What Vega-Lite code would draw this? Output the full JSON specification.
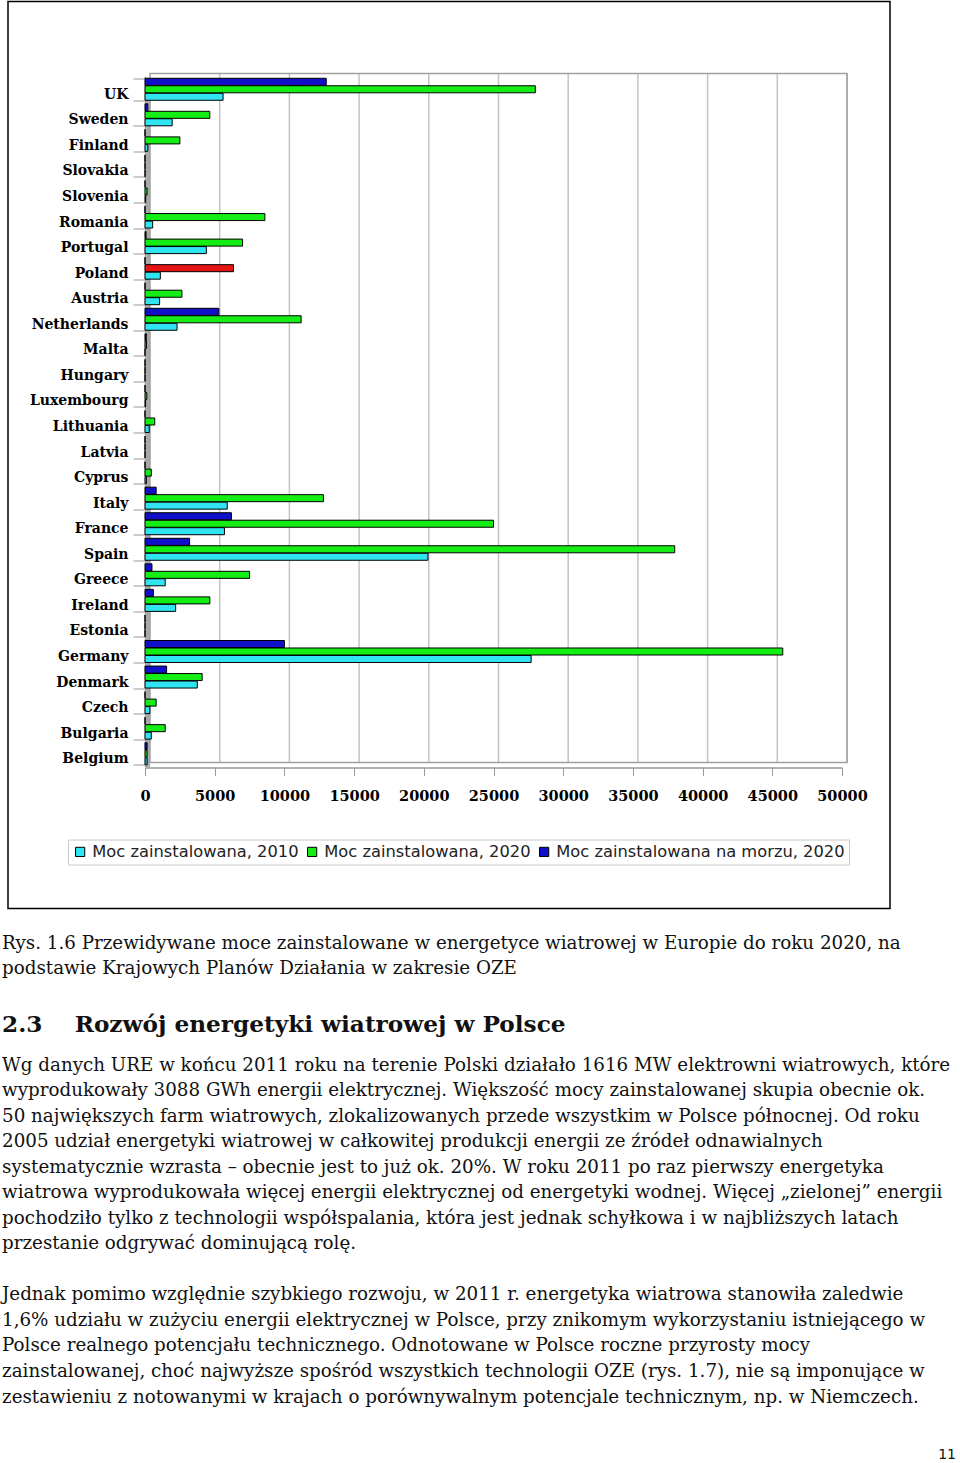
{
  "$schema": "https://vega.github.io/schema/vega-lite/v6.json",
  "width": 882,
  "height": 907,
  "padding": {"left": 2, "top": -5.5, "right": 0, "bottom": 0},
  "autosize": {"type": "pad"},
  "background": "white",
  "config": {"view": {"stroke": "black", "strokeWidth": 1.5}},
  "resolve": {"scale": {"x": "independent", "y": "independent"}},
  "layer": [
    {
      "data": {"values": [{"part": "wall"}]},
      "mark": {"type": "rect", "fill": "#a8a8a8", "stroke": null},
      "encoding": {
        "x": {"datum": -360, "type": "quantitative", "scale": {"domain": [0, 50000], "range": [142, 839], "nice": false, "zero": false}, "axis": null},
        "x2": {"datum": 0},
        "y": {"datum": 0, "type": "quantitative", "scale": {"domain": [0, 1], "range": [766, 77], "nice": false, "zero": false}, "axis": null},
        "y2": {"datum": 1}
      }
    },
    {
      "data": {"values": [{"v": 5000}, {"v": 10000}, {"v": 15000}, {"v": 20000}, {"v": 25000}, {"v": 30000}, {"v": 35000}, {"v": 40000}, {"v": 45000}, {"v": 50000}]},
      "mark": {"type": "rule", "stroke": "#c4c4c4", "strokeWidth": 1.5},
      "encoding": {
        "x": {"field": "v", "type": "quantitative", "scale": {"domain": [0, 50000], "range": [142, 839], "nice": false, "zero": false}, "axis": null},
        "y": {"datum": 0, "type": "quantitative", "scale": {"domain": [0, 1], "range": [761, 72], "nice": false, "zero": false}, "axis": null},
        "y2": {"datum": 1}
      }
    },
    {
      "data": {"values": [{"part": "backwall"}]},
      "mark": {"type": "rect", "fill": null, "stroke": "#a0a0a0", "strokeWidth": 1.5},
      "encoding": {
        "x": {"datum": 0, "type": "quantitative", "scale": {"domain": [0, 50000], "range": [142, 839], "nice": false, "zero": false}, "axis": null},
        "x2": {"datum": 50000},
        "y": {"datum": 0, "type": "quantitative", "scale": {"domain": [0, 1], "range": [761, 72], "nice": false, "zero": false}, "axis": null},
        "y2": {"datum": 1}
      }
    },
    {
      "data": {"values": [
        {"country": "UK", "series": "2010", "value": 5600}, {"country": "UK", "series": "2020", "value": 28000}, {"country": "UK", "series": "offshore2020", "value": 13000},
        {"country": "Sweden", "series": "2010", "value": 1950}, {"country": "Sweden", "series": "2020", "value": 4650}, {"country": "Sweden", "series": "offshore2020", "value": 200},
        {"country": "Finland", "series": "2010", "value": 200}, {"country": "Finland", "series": "2020", "value": 2500}, {"country": "Finland", "series": "offshore2020", "value": 0},
        {"country": "Slovakia", "series": "2010", "value": 5}, {"country": "Slovakia", "series": "2020", "value": 0}, {"country": "Slovakia", "series": "offshore2020", "value": 0},
        {"country": "Slovenia", "series": "2010", "value": 50}, {"country": "Slovenia", "series": "2020", "value": 150}, {"country": "Slovenia", "series": "offshore2020", "value": 0},
        {"country": "Romania", "series": "2010", "value": 550}, {"country": "Romania", "series": "2020", "value": 8600}, {"country": "Romania", "series": "offshore2020", "value": 0},
        {"country": "Portugal", "series": "2010", "value": 4400}, {"country": "Portugal", "series": "2020", "value": 7000}, {"country": "Portugal", "series": "offshore2020", "value": 75},
        {"country": "Poland", "series": "2010", "value": 1100}, {"country": "Poland", "series": "2020", "value": 6350}, {"country": "Poland", "series": "offshore2020", "value": 0},
        {"country": "Austria", "series": "2010", "value": 1050}, {"country": "Austria", "series": "2020", "value": 2650}, {"country": "Austria", "series": "offshore2020", "value": 0},
        {"country": "Netherlands", "series": "2010", "value": 2300}, {"country": "Netherlands", "series": "2020", "value": 11200}, {"country": "Netherlands", "series": "offshore2020", "value": 5300},
        {"country": "Malta", "series": "2010", "value": 0}, {"country": "Malta", "series": "2020", "value": 110}, {"country": "Malta", "series": "offshore2020", "value": 95},
        {"country": "Hungary", "series": "2010", "value": 0}, {"country": "Hungary", "series": "2020", "value": 0}, {"country": "Hungary", "series": "offshore2020", "value": 0},
        {"country": "Luxembourg", "series": "2010", "value": 40}, {"country": "Luxembourg", "series": "2020", "value": 130}, {"country": "Luxembourg", "series": "offshore2020", "value": 0},
        {"country": "Lithuania", "series": "2010", "value": 300}, {"country": "Lithuania", "series": "2020", "value": 700}, {"country": "Lithuania", "series": "offshore2020", "value": 0},
        {"country": "Latvia", "series": "2010", "value": 0}, {"country": "Latvia", "series": "2020", "value": 0}, {"country": "Latvia", "series": "offshore2020", "value": 0},
        {"country": "Cyprus", "series": "2010", "value": 100}, {"country": "Cyprus", "series": "2020", "value": 450}, {"country": "Cyprus", "series": "offshore2020", "value": 0},
        {"country": "Italy", "series": "2010", "value": 5900}, {"country": "Italy", "series": "2020", "value": 12800}, {"country": "Italy", "series": "offshore2020", "value": 800},
        {"country": "France", "series": "2010", "value": 5700}, {"country": "France", "series": "2020", "value": 25000}, {"country": "France", "series": "offshore2020", "value": 6200},
        {"country": "Spain", "series": "2010", "value": 20300}, {"country": "Spain", "series": "2020", "value": 38000}, {"country": "Spain", "series": "offshore2020", "value": 3200},
        {"country": "Greece", "series": "2010", "value": 1450}, {"country": "Greece", "series": "2020", "value": 7500}, {"country": "Greece", "series": "offshore2020", "value": 500},
        {"country": "Ireland", "series": "2010", "value": 2200}, {"country": "Ireland", "series": "2020", "value": 4650}, {"country": "Ireland", "series": "offshore2020", "value": 600},
        {"country": "Estonia", "series": "2010", "value": 0}, {"country": "Estonia", "series": "2020", "value": 0}, {"country": "Estonia", "series": "offshore2020", "value": 0},
        {"country": "Germany", "series": "2010", "value": 27700}, {"country": "Germany", "series": "2020", "value": 45750}, {"country": "Germany", "series": "offshore2020", "value": 10000},
        {"country": "Denmark", "series": "2010", "value": 3750}, {"country": "Denmark", "series": "2020", "value": 4100}, {"country": "Denmark", "series": "offshore2020", "value": 1550},
        {"country": "Czech", "series": "2010", "value": 350}, {"country": "Czech", "series": "2020", "value": 800}, {"country": "Czech", "series": "offshore2020", "value": 0},
        {"country": "Bulgaria", "series": "2010", "value": 450}, {"country": "Bulgaria", "series": "2020", "value": 1450}, {"country": "Bulgaria", "series": "offshore2020", "value": 0},
        {"country": "Belgium", "series": "2010", "value": 150}, {"country": "Belgium", "series": "2020", "value": 150}, {"country": "Belgium", "series": "offshore2020", "value": 150}
      ]},
      "mark": {"type": "bar", "stroke": "black", "strokeWidth": 1},
      "encoding": {
        "x": {"field": "value", "type": "quantitative",
          "scale": {"domain": [0, 50000], "range": [137, 834], "nice": false, "zero": true},
          "axis": {"title": null, "offset": -141, "values": [0, 5000, 10000, 15000, 20000, 25000, 30000, 35000, 40000, 45000, 50000],
            "grid": false, "domainColor": "#999", "domainWidth": 1.5, "tickColor": "#999", "tickSize": 8, "labelPadding": 14,
            "labelFont": "DejaVu Serif", "labelFontWeight": "bold", "labelFontSize": 14.5, "labelColor": "black", "labelFlush": false, "labelOverlap": false, "format": "d"}},
        "y": {"field": "country", "type": "nominal",
          "scale": {"domain": ["UK", "Sweden", "Finland", "Slovakia", "Slovenia", "Romania", "Portugal", "Poland", "Austria", "Netherlands", "Malta", "Hungary", "Luxembourg", "Lithuania", "Latvia", "Cyprus", "Italy", "France", "Spain", "Greece", "Ireland", "Estonia", "Germany", "Denmark", "Czech", "Bulgaria", "Belgium"],
            "range": [75, 765], "paddingInner": 0.14, "paddingOuter": 0.07},
          "axis": {"title": null, "offset": -137, "domainColor": "#999", "domainWidth": 1.5, "tickColor": "#999", "tickSize": 12, "tickBand": "extent",
            "labelFont": "DejaVu Serif", "labelFontWeight": "bold", "labelFontSize": 14, "labelColor": "black", "labelPadding": 5, "labelOffset": 5}},
        "yOffset": {"field": "series", "type": "nominal", "scale": {"domain": ["offshore2020", "2020", "2010"], "paddingInner": 0.06}},
        "color": {
          "condition": {"test": "datum.country === 'Poland' && datum.series === '2020'", "value": "#e41414"},
          "field": "series", "type": "nominal",
          "scale": {"domain": ["2010", "2020", "offshore2020"], "range": ["#30e4f2", "#14ee14", "#1010c8"]},
          "legend": {"title": null, "orient": "none", "legendX": 60, "legendY": 838, "direction": "horizontal", "columns": 3,
            "symbolType": "square", "symbolSize": 85, "symbolStrokeColor": "black", "symbolStrokeWidth": 1,
            "labelFont": "DejaVu Sans", "labelFontSize": 16.3, "labelColor": "#222", "labelOffset": 4, "columnPadding": 5, "labelLimit": 500,
            "padding": 4, "strokeColor": "#c8c8c8", "fillColor": "white",
            "labelExpr": "datum.label === '2010' ? 'Moc zainstalowana, 2010' : datum.label === '2020' ? 'Moc zainstalowana, 2020' : 'Moc zainstalowana na morzu, 2020'"}
        }
      }
    },
    {
      "data": {"values": [
        {"line": 0, "text": "Rys. 1.6 Przewidywane moce zainstalowane w energetyce wiatrowej w Europie do roku 2020, na"},
        {"line": 1, "text": "podstawie Krajowych Planów Działania w zakresie OZE"}
      ]},
      "mark": {"type": "text", "align": "left", "baseline": "middle", "font": "DejaVu Serif", "fontSize": 18.3, "color": "#111"},
      "encoding": {
        "x": {"datum": 0, "type": "quantitative", "scale": {"domain": [0, 1], "range": [-6, 950], "nice": false, "zero": false}, "axis": null},
        "y": {"field": "line", "type": "quantitative", "scale": {"domain": [0, 1], "range": [942, 967], "nice": false, "zero": false}, "axis": null},
        "text": {"field": "text"}
      }
    },
    {
      "data": {"values": [{"text": "2.3\u00a0\u00a0\u00a0\u00a0Rozwój energetyki wiatrowej w Polsce"}]},
      "mark": {"type": "text", "align": "left", "baseline": "middle", "font": "DejaVu Serif", "fontSize": 23.2, "fontWeight": "bold", "color": "#111"},
      "encoding": {
        "x": {"datum": 0, "type": "quantitative", "scale": {"domain": [0, 1], "range": [-6, 950], "nice": false, "zero": false}, "axis": null},
        "y": {"datum": 0, "type": "quantitative", "scale": {"domain": [0, 1], "range": [1023, 1024], "nice": false, "zero": false}, "axis": null},
        "text": {"field": "text"}
      }
    },
    {
      "data": {"values": [
        {"line": 0, "text": "Wg danych URE w końcu 2011 roku na terenie Polski działało 1616 MW elektrowni wiatrowych, które"},
        {"line": 1, "text": "wyprodukowały 3088 GWh energii elektrycznej. Większość mocy zainstalowanej skupia obecnie ok."},
        {"line": 2, "text": "50 największych farm wiatrowych, zlokalizowanych przede wszystkim w Polsce północnej. Od roku"},
        {"line": 3, "text": "2005 udział energetyki wiatrowej w całkowitej produkcji energii ze źródeł odnawialnych"},
        {"line": 4, "text": "systematycznie wzrasta – obecnie jest to już ok. 20%. W roku 2011 po raz pierwszy energetyka"},
        {"line": 5, "text": "wiatrowa wyprodukowała więcej energii elektrycznej od energetyki wodnej. Więcej „zielonej” energii"},
        {"line": 6, "text": "pochodziło tylko z technologii współspalania, która jest jednak schyłkowa i w najbliższych latach"},
        {"line": 7, "text": "przestanie odgrywać dominującą rolę."},
        {"line": 9, "text": "\u00a0Jednak pomimo względnie szybkiego rozwoju, w 2011 r. energetyka wiatrowa stanowiła zaledwie"},
        {"line": 10, "text": "1,6% udziału w zużyciu energii elektrycznej w Polsce, przy znikomym wykorzystaniu istniejącego w"},
        {"line": 11, "text": "Polsce realnego potencjału technicznego. Odnotowane w Polsce roczne przyrosty mocy"},
        {"line": 12, "text": "zainstalowanej, choć najwyższe spośród wszystkich technologii OZE (rys. 1.7), nie są imponujące w"},
        {"line": 13, "text": "zestawieniu z notowanymi w krajach o porównywalnym potencjale technicznym, np. w Niemczech."}
      ]},
      "mark": {"type": "text", "align": "left", "baseline": "middle", "font": "DejaVu Serif", "fontSize": 18.3, "color": "#111"},
      "encoding": {
        "x": {"datum": 0, "type": "quantitative", "scale": {"domain": [0, 1], "range": [-6, 950], "nice": false, "zero": false}, "axis": null},
        "y": {"field": "line", "type": "quantitative", "scale": {"domain": [0, 13], "range": [1064, 1396], "nice": false, "zero": false}, "axis": null},
        "text": {"field": "text"}
      }
    },
    {
      "data": {"values": [{"text": "11"}]},
      "mark": {"type": "text", "align": "right", "baseline": "middle", "font": "DejaVu Sans", "fontSize": 14, "color": "#111"},
      "encoding": {
        "x": {"datum": 0, "type": "quantitative", "scale": {"domain": [0, 1], "range": [948, 1000], "nice": false, "zero": false}, "axis": null},
        "y": {"datum": 0, "type": "quantitative", "scale": {"domain": [0, 1], "range": [1453, 1454], "nice": false, "zero": false}, "axis": null},
        "text": {"field": "text"}
      }
    }
  ]
}
